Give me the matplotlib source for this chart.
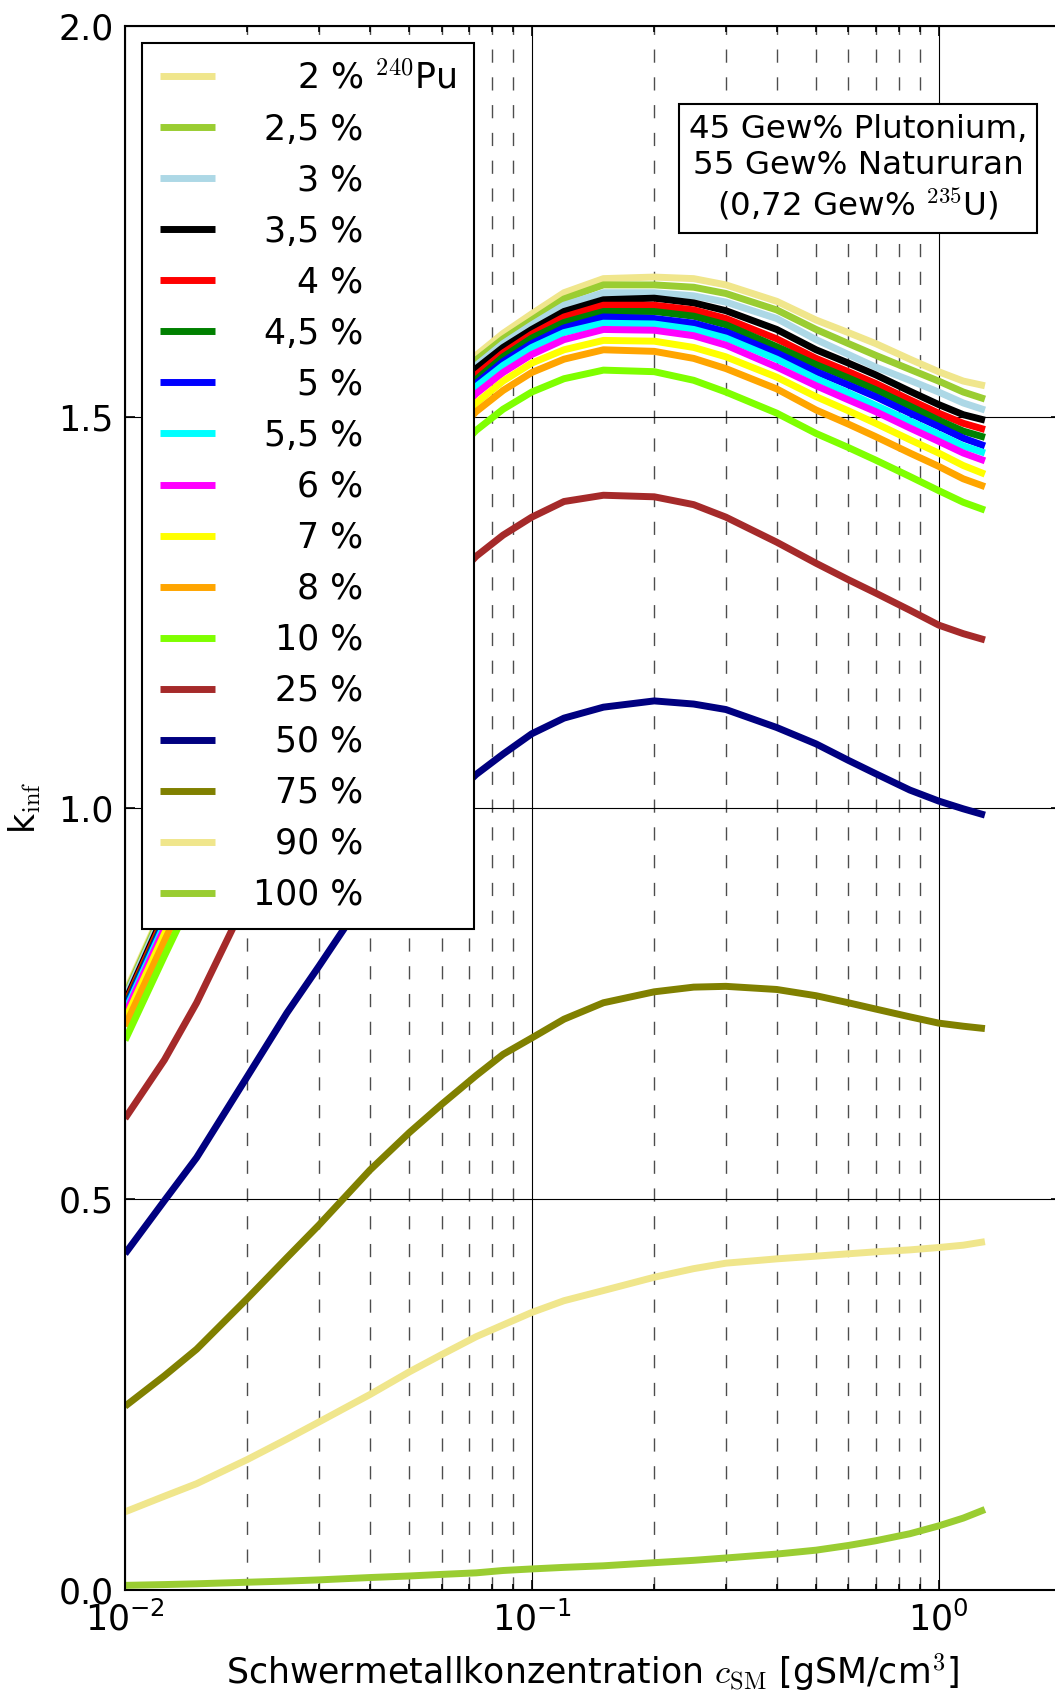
import matplotlib
matplotlib.use('agg')

import matplotlib.pyplot as plt
from matplotlib.ticker import FormatStrFormatter

plt.rcParams['font.family'] = ['DejaVu Sans']
plt.rcParams['mathtext.fontset'] = 'cm'

# heavy metal concentration [gSM/cm^3]
conc = [0.01, 0.0125, 0.015, 0.02, 0.025, 0.03, 0.04, 0.05, 0.06, 0.073, 0.085, 0.1, 0.12,
        0.15, 0.2, 0.25, 0.3, 0.4, 0.5, 0.6, 0.7, 0.85, 1.0, 1.15, 1.3]

# k_inf for each 240Pu fraction
k_2 = [0.763, 0.876, 0.966, 1.105, 1.207, 1.286, 1.399, 1.477, 1.531, 1.579, 1.607, 1.632, 1.659,
       1.677, 1.679, 1.677, 1.669, 1.648, 1.624, 1.608, 1.594, 1.574, 1.558, 1.546, 1.540]
k_2_5 = [0.760, 0.873, 0.962, 1.101, 1.202, 1.281, 1.394, 1.471, 1.525, 1.573, 1.600, 1.624, 1.651,
         1.669, 1.669, 1.666, 1.658, 1.637, 1.612, 1.594, 1.579, 1.561, 1.546, 1.532, 1.523]
k_3 = [0.757, 0.869, 0.958, 1.096, 1.197, 1.276, 1.388, 1.465, 1.518, 1.566, 1.594, 1.618, 1.643,
       1.659, 1.659, 1.655, 1.647, 1.626, 1.599, 1.580, 1.564, 1.547, 1.532, 1.518, 1.509]
k_3_5 = [0.752, 0.865, 0.954, 1.091, 1.193, 1.271, 1.384, 1.461, 1.514, 1.562, 1.589, 1.612, 1.635,
         1.650, 1.652, 1.646, 1.636, 1.612, 1.586, 1.569, 1.554, 1.533, 1.516, 1.503, 1.496]
k_4 = [0.749, 0.861, 0.949, 1.086, 1.187, 1.265, 1.377, 1.453, 1.507, 1.554, 1.582, 1.606, 1.628,
       1.643, 1.643, 1.637, 1.626, 1.600, 1.575, 1.558, 1.543, 1.522, 1.505, 1.492, 1.484]
k_4_5 = [0.746, 0.857, 0.946, 1.082, 1.182, 1.260, 1.372, 1.448, 1.501, 1.548, 1.577, 1.601, 1.621,
         1.635, 1.635, 1.629, 1.618, 1.590, 1.567, 1.550, 1.535, 1.514, 1.496, 1.482, 1.474]
k_5 = [0.743, 0.854, 0.942, 1.078, 1.178, 1.256, 1.367, 1.443, 1.496, 1.543, 1.571, 1.594, 1.614,
       1.628, 1.626, 1.620, 1.609, 1.582, 1.558, 1.541, 1.526, 1.505, 1.488, 1.473, 1.463]
k_5_5 = [0.740, 0.851, 0.939, 1.075, 1.175, 1.252, 1.363, 1.439, 1.492, 1.539, 1.566, 1.589, 1.608,
         1.620, 1.619, 1.612, 1.601, 1.574, 1.549, 1.531, 1.515, 1.495, 1.478, 1.463, 1.454]
k_6 = [0.736, 0.846, 0.934, 1.069, 1.168, 1.245, 1.355, 1.431, 1.483, 1.530, 1.557, 1.580, 1.599,
       1.612, 1.611, 1.604, 1.592, 1.564, 1.540, 1.522, 1.507, 1.486, 1.469, 1.454, 1.444]
k_7 = [0.729, 0.839, 0.925, 1.060, 1.158, 1.235, 1.344, 1.419, 1.471, 1.518, 1.546, 1.569, 1.586,
       1.598, 1.597, 1.589, 1.577, 1.551, 1.526, 1.508, 1.492, 1.471, 1.454, 1.438, 1.427]
k_8 = [0.721, 0.830, 0.917, 1.050, 1.149, 1.225, 1.334, 1.409, 1.461, 1.507, 1.534, 1.557, 1.574,
       1.586, 1.584, 1.575, 1.562, 1.536, 1.509, 1.491, 1.475, 1.454, 1.437, 1.421, 1.411]
k_10 = [0.703, 0.811, 0.897, 1.030, 1.127, 1.203, 1.311, 1.386, 1.437, 1.483, 1.510, 1.532, 1.549,
        1.560, 1.558, 1.547, 1.532, 1.505, 1.479, 1.461, 1.445, 1.424, 1.406, 1.391, 1.381]
k_25 = [0.603, 0.678, 0.751, 0.885, 0.978, 1.051, 1.156, 1.227, 1.276, 1.322, 1.349, 1.372, 1.392,
        1.400, 1.398, 1.388, 1.372, 1.340, 1.313, 1.292, 1.275, 1.253, 1.234, 1.223, 1.215]
k_50 = [0.430, 0.498, 0.553, 0.657, 0.738, 0.798, 0.895, 0.958, 1.001, 1.043, 1.069, 1.095, 1.115,
        1.129, 1.137, 1.133, 1.126, 1.103, 1.082, 1.061, 1.044, 1.023, 1.009, 0.999, 0.991]
k_75 = [0.235, 0.274, 0.308, 0.373, 0.425, 0.467, 0.537, 0.585, 0.621, 0.658, 0.685, 0.706, 0.730,
        0.751, 0.765, 0.771, 0.772, 0.768, 0.760, 0.751, 0.743, 0.733, 0.725, 0.721, 0.718]
k_90 = [0.100, 0.120, 0.136, 0.167, 0.193, 0.215, 0.250, 0.279, 0.301, 0.324, 0.339, 0.355, 0.370,
        0.383, 0.400, 0.411, 0.418, 0.4235, 0.427, 0.430, 0.4325, 0.435, 0.438, 0.441, 0.4455]
k_100 = [0.006, 0.007, 0.008, 0.010, 0.0115, 0.013, 0.016, 0.018, 0.020, 0.022, 0.025, 0.027, 0.029,
         0.031, 0.035, 0.038, 0.041, 0.046, 0.051, 0.057, 0.063, 0.072, 0.082, 0.092, 0.103]

series = [k_2, k_2_5, k_3, k_3_5, k_4, k_4_5, k_5, k_5_5, k_6, k_7, k_8, k_10,
          k_25, k_50, k_75, k_90, k_100]
pu_share = ['2', '2,5', '3', '3,5', '4', '4,5', '5', '5,5', '6', '7', '8', '10',
            '25', '50', '75', '90', '100']
colors = ['khaki', 'yellowgreen', 'lightblue', 'black', 'red', 'green', 'blue',
          'cyan', 'magenta', 'yellow', 'orange', 'chartreuse',
          'brown', 'navy', 'olive', 'khaki', 'yellowgreen']


def pad_label(s):
    # right-align the numbers with spaces (digit = 2 spaces, comma = 1)
    w = sum(1 if c == ',' else 2 for c in s)
    return ' ' * (6 - w) + s + ' %'


fig = plt.figure(figsize=(10.55, 16.91), dpi=100)
ax = fig.add_axes([0.1185, 0.0597, 0.8872, 0.9249])

for i, (k, p, c) in enumerate(zip(series, pu_share, colors)):
    label = pad_label(p)
    if i == 0:
        label += ' $^{240}$Pu'
    ax.plot(conc, k, color=c, lw=5, label=label, solid_capstyle='butt', solid_joinstyle='round')

ax.set_xscale('log')
ax.set_xlim(0.01, 2)
ax.set_ylim(0, 2)
ax.set_yticks([0, 0.5, 1.0, 1.5, 2.0])
ax.yaxis.set_major_formatter(FormatStrFormatter('%.1f'))

ax.grid(True, which='major', color='k', ls='-', lw=0.8)
ax.xaxis.grid(True, which='minor', color='0.3', ls='--', lw=1.0, dashes=(9.5, 10.5))

ax.tick_params(which='both', direction='in', top=True, right=True, labelsize=25, width=1.2)
ax.tick_params(which='major', length=7, pad=8)
ax.tick_params(which='minor', length=4)
for sp in ax.spines.values():
    sp.set_linewidth(1.5)

ax.set_xlabel('Schwermetallkonzentration $c_{\\mathrm{SM}}$ [gSM/cm$^3$]', fontsize=25, labelpad=10)
ax.set_ylabel('k$_{\\mathrm{inf}}$', fontsize=25, labelpad=11)

leg = ax.legend(loc='upper left', fontsize=25, handlelength=1.6, handletextpad=1.1,
                labelspacing=0.49, borderpad=0.5, borderaxespad=0.5,
                fancybox=False, framealpha=1)
leg.get_frame().set_edgecolor('black')
leg.get_frame().set_linewidth(1.5)

ax.text(0.783, 0.909, '45 Gew% Plutonium,\n55 Gew% Natururan\n(0,72 Gew% $^{235}$U)',
        transform=ax.transAxes, ha='center', va='center', multialignment='center',
        fontsize=23.4, bbox=dict(boxstyle='square,pad=0.3', fc='white', ec='black', lw=1.5))

fig.savefig('out.png', dpi=100)
